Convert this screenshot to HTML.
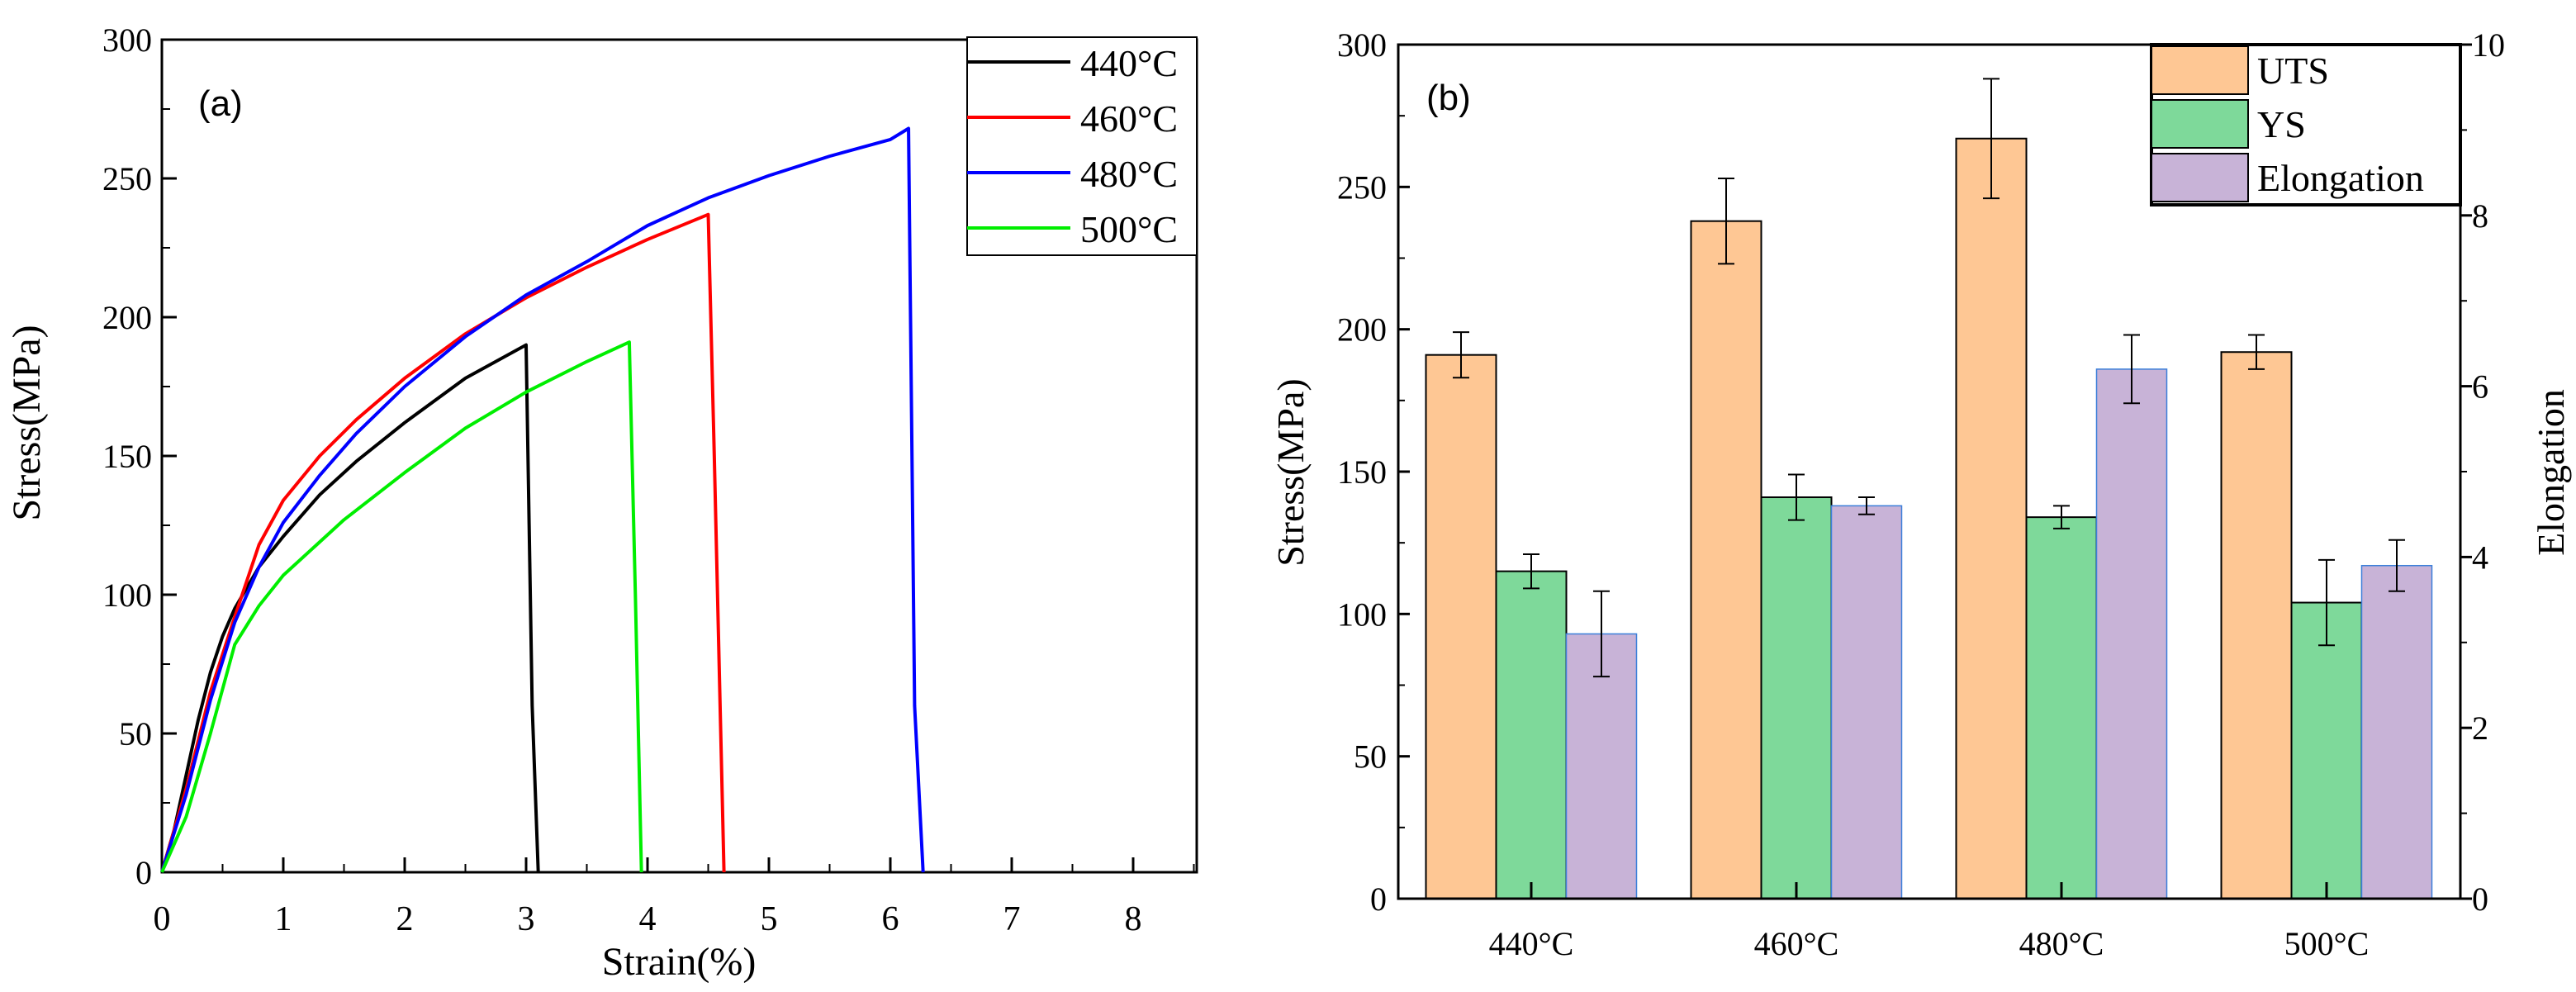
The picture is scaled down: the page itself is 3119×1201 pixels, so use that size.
<!DOCTYPE html>
<html><head><meta charset="utf-8"><style>
html,body{margin:0;padding:0;background:#fff}
svg{display:block;font-family:"Liberation Serif",serif}
</style></head><body>
<svg id="chart" width="3119" height="1201" viewBox="0 0 3119 1201" xmlns="http://www.w3.org/2000/svg">
<rect width="3119" height="1201" fill="#fff"/>
<g id="pa"></g>
<g id="pb"></g>
</svg>
<script>
// ---------- Panel (a) data ----------
const aTemps = ["440°C","460°C","480°C","500°C"];
const aColors = ["#000000","#ff0000","#0000ff","#00ee00"];
const c440 = [[0,0],[0.1,15],[0.2,35],[0.3,55],[0.4,72],[0.5,85],[0.6,95],[0.8,110],[1.0,121],[1.3,136],[1.6,148],[2.0,162],[2.5,178],[3.0,190],[3.05,60],[3.1,0]];
const c460 = [[0,0],[0.2,30],[0.4,65],[0.6,92],[0.8,118],[1.0,134],[1.3,150],[1.6,163],[2.0,178],[2.5,194],[3.0,207],[3.5,218],[4.0,228],[4.5,237],[4.55,150],[4.63,0]];
const c480 = [[0,0],[0.2,28],[0.4,62],[0.6,90],[0.8,110],[1.0,126],[1.3,143],[1.6,158],[2.0,175],[2.5,193],[3.0,208],[3.5,220],[4.0,233],[4.5,243],[5.0,251],[5.5,258],[6.0,264],[6.15,268],[6.2,60],[6.27,0]];
const c500 = [[0,0],[0.2,20],[0.4,50],[0.6,82],[0.8,96],[1.0,107],[1.5,127],[2.0,144],[2.5,160],[3.0,173],[3.5,184],[3.85,191],[3.9,100],[3.95,0]];
const aXTicks = [0,1,2,3,4,5,6,7,8];
const aYTicks = [0,50,100,150,200,250,300];
// ---------- Panel (b) data ----------
const bCats = ["440°C","460°C","480°C","500°C"];
const utsVals = [191,238,267,192];
const utsErr = [8,15,21,6];
const ysVals = [115,141,134,104];
const ysErr = [6,8,4,15];
const elVals = [3.1,4.6,6.2,3.9];
const elErr = [0.5,0.1,0.4,0.3];
const bYTicks = [0,50,100,150,200,250,300];
const bY2Ticks = [0,2,4,6,8,10];

const NS="http://www.w3.org/2000/svg";
function mk(p,t,a,txt){const e=document.createElementNS(NS,t);for(const k in a)e.setAttribute(k,a[k]);if(txt!==undefined)e.textContent=txt;p.appendChild(e);return e;}

// ---- Panel a ----
const pa=document.getElementById('pa');
const ax0=196, ax1=1449, ay0=1056, ay1=48;
const axX=v=>ax0+v*147;
const axY=v=>ay0-(v/300)*(ay0-ay1);
let e;
e=mk(pa,'rect',{x:ax0,y:ay1,width:ax1-ax0,height:ay0-ay1,fill:'none',stroke:'#000','stroke-width':3});


aXTicks.forEach(v=>{
  e=mk(pa,'line',{x1:axX(v),x2:axX(v),y1:ay0,y2:ay0-18,stroke:'#000','stroke-width':3});
  
  
  mk(pa,'line',{x1:axX(v+0.5),x2:axX(v+0.5),y1:ay0,y2:ay0-10,stroke:'#000','stroke-width':2});
  e=mk(pa,'text',{x:axX(v),y:ay0+70,'font-size':42,'text-anchor':'middle'},String(v));
  
  
});
aYTicks.forEach(v=>{
  e=mk(pa,'line',{x1:ax0,x2:ax0+18,y1:axY(v),y2:axY(v),stroke:'#000','stroke-width':3});
  
  
  if(v<300)mk(pa,'line',{x1:ax0,x2:ax0+10,y1:axY(v+25),y2:axY(v+25),stroke:'#000','stroke-width':2});
  e=mk(pa,'text',{x:ax0-12,y:axY(v)+14,'font-size':40,'text-anchor':'end'},String(v));
  
  
});
e=mk(pa,'text',{x:822,y:1180,'font-size':48,'text-anchor':'middle'},'Strain(%)');


e=mk(pa,'text',{x:0,y:0,'font-size':48,'text-anchor':'middle',transform:'translate(48,512) rotate(-90)'},'Stress(MPa)');


e=mk(pa,'text',{x:240,y:140,'font-size':44,'font-family':'Liberation Sans, sans-serif'},'(a)');


[c440,c460,c480,c500].forEach((c,i)=>{
  e=mk(pa,'polyline',{points:c.map(p=>axX(p[0])+','+axY(p[1])).join(' '),fill:'none',stroke:aColors[i],'stroke-width':4,'stroke-linejoin':'round'});
  
  
});
e=mk(pa,'rect',{x:1171,y:45,width:278,height:264,fill:'#fff',stroke:'#000','stroke-width':2});


aTemps.forEach((t,i)=>{
  const y=75+i*67;
  mk(pa,'line',{x1:1171,x2:1296,y1:y,y2:y,stroke:aColors[i],'stroke-width':4});
  e=mk(pa,'text',{x:1308,y:y+17,'font-size':46},t);
  
  
});

// ---- Panel b ----
const pb=document.getElementById('pb');
const bx0=1693, bx1=2979, by0=1088, by1=54;
const bY=v=>by0-(v/300)*(by0-by1);
const bY2=v=>by0-(v/10)*(by0-by1);
const gStart=1854, gStep=321, bw=85;
const cx=i=>gStart+i*gStep;
function bar(x,top,bottom,fill,stroke,sw,name){
  const r=mk(pb,'rect',{x:x,y:top,width:bw,height:bottom-top,fill:fill,stroke:stroke,'stroke-width':sw});
  
  
}
function err(x,yh,yl){
  const g=mk(pb,'g',{stroke:'#000','stroke-width':2});
  
  
  mk(g,'line',{x1:x,x2:x,y1:yh,y2:yl});
  mk(g,'line',{x1:x-10,x2:x+10,y1:yh,y2:yh});
  mk(g,'line',{x1:x-10,x2:x+10,y1:yl,y2:yl});
}
bCats.forEach((c,i)=>{
  const x=cx(i);
  bar(x-1.5*bw,bY(utsVals[i]),by0,'#fec794','#000',2,'bar-uts');
  bar(x-0.5*bw,bY(ysVals[i]),by0,'#7ed99a','#000',2,'bar-ys');
  bar(x+0.5*bw,bY2(elVals[i]),by0,'#c8b3d7','#3b7fd9',1.5,'bar-elongation');
  err(x-bw,bY(utsVals[i]+utsErr[i]),bY(utsVals[i]-utsErr[i]));
  err(x,bY(ysVals[i]+ysErr[i]),bY(ysVals[i]-ysErr[i]));
  err(x+bw,bY2(elVals[i]+elErr[i]),bY2(elVals[i]-elErr[i]));
  mk(pb,'line',{x1:x,x2:x,y1:by0,y2:by0-20,stroke:'#000','stroke-width':3});
  e=mk(pb,'text',{x:x,y:by0+68,'font-size':40,'text-anchor':'middle'},c);
  
  
});
e=mk(pb,'rect',{x:bx0,y:by1,width:bx1-bx0,height:by0-by1,fill:'none',stroke:'#000','stroke-width':3});


bYTicks.forEach(v=>{
  mk(pb,'line',{x1:bx0,x2:bx0+14,y1:bY(v),y2:bY(v),stroke:'#000','stroke-width':3});
  if(v<300)mk(pb,'line',{x1:bx0,x2:bx0+8,y1:bY(v+25),y2:bY(v+25),stroke:'#000','stroke-width':2});
  e=mk(pb,'text',{x:bx0-14,y:bY(v)+14,'font-size':40,'text-anchor':'end'},String(v));
  
  
});
bY2Ticks.forEach(v=>{
  mk(pb,'line',{x1:bx1,x2:bx1+14,y1:bY2(v),y2:bY2(v),stroke:'#000','stroke-width':3});
  if(v<10)mk(pb,'line',{x1:bx1,x2:bx1+8,y1:bY2(v+1),y2:bY2(v+1),stroke:'#000','stroke-width':2});
  e=mk(pb,'text',{x:bx1+14,y:bY2(v)+14,'font-size':40,'text-anchor':'start'},String(v));
  
  
});
e=mk(pb,'text',{x:0,y:0,'font-size':46,'text-anchor':'middle',transform:'translate(1578,572) rotate(-90)'},'Stress(MPa)');


e=mk(pb,'text',{x:0,y:0,'font-size':46,'text-anchor':'middle',transform:'translate(3104,572) rotate(-90)'},'Elongation');


e=mk(pb,'text',{x:1727,y:133,'font-size':44,'font-family':'Liberation Sans, sans-serif'},'(b)');


e=mk(pb,'rect',{x:2605,y:54,width:374,height:194,fill:'#fff',stroke:'#000','stroke-width':4});


[["UTS","#fec794","#000"],["YS","#7ed99a","#000"],["Elongation","#c8b3d7","#000"]].forEach((l,i)=>{
  const y=56+i*65;
  mk(pb,'rect',{x:2605,y:y,width:117,height:58,fill:l[1],stroke:l[2],'stroke-width':2});
  e=mk(pb,'text',{x:2733,y:y+45,'font-size':46},l[0]);
  
  
});
</script>
</body></html>
